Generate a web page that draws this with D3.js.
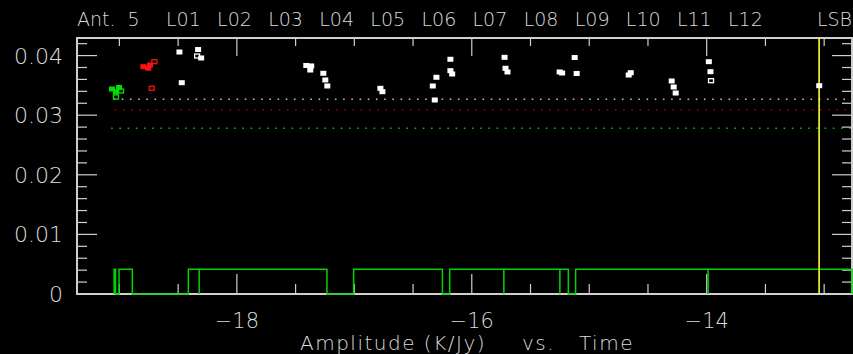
<!DOCTYPE html>
<html>
<head>
<meta charset="utf-8">
<script src="https://cdn.jsdelivr.net/npm/d3@7"></script>
<style>
  html, body { margin: 0; padding: 0; background: #000; }
  svg { display: block; }
  text { font-family: "DejaVu Sans", sans-serif; fill: #dcdcdc; font-weight: 200; }
</style>
</head>
<body>
<svg id="chart" width="853" height="354"></svg>
<script>
// ---- data -------------------------------------------------------------
const antennaLabel = "Ant.  5";
const loLabels = ["L01", "L02", "L03", "L04", "L05", "L06", "L07", "L08", "L09", "L10", "L11", "L12"];
const sidebandLabel = "LSB";

const timeDomain = [-19.361, -12.763];
const ampDomain = [0, 0.04295];

const xTickValues = d3.range(-19, -12.9, 0.5);
const xMajorTicks = [-18, -16, -14];
const xTickLabels = ["\u221218", "\u221216", "\u221214"];

const yTickValues = d3.range(0, 0.0421, 0.002);
const yMajorTicks = [0, 0.01, 0.02, 0.03, 0.04];
const yTickLabels = ["0", "0.01", "0.02", "0.03", "0.04"];

// [time, amplitude, filled]
const greenPoints = [
  [-19.063, 0.03440, 1], [-19.003, 0.03465, 1], [-19.029, 0.03389, 1],
  [-18.986, 0.03406, 0], [-19.029, 0.03305, 0]
];
const redPoints = [
  [-18.796, 0.03814, 1], [-18.754, 0.03787, 1], [-18.739, 0.03842, 1],
  [-18.702, 0.03898, 0], [-18.725, 0.03451, 0]
];
const whitePoints = [
  [-18.489, 0.04060, 1], [-18.469, 0.03545, 1], [-18.330, 0.04102, 1],
  [-18.338, 0.03993, 0], [-18.304, 0.03960, 1],
  [-17.409, 0.03834, 1], [-17.367, 0.03826, 1], [-17.375, 0.03758, 1],
  [-17.264, 0.03703, 1], [-17.247, 0.03591, 1], [-17.230, 0.03490, 1],
  [-16.778, 0.03451, 1], [-16.761, 0.03394, 1],
  [-16.301, 0.03636, 1], [-16.332, 0.03490, 1], [-16.315, 0.03255, 1],
  [-16.182, 0.03938, 1], [-16.182, 0.03747, 1], [-16.167, 0.03691, 1],
  [-15.721, 0.03971, 1], [-15.713, 0.03787, 1], [-15.696, 0.03725, 1],
  [-15.252, 0.03725, 1], [-15.231, 0.03708, 1],
  [-15.124, 0.03968, 1], [-15.107, 0.03700, 1],
  [-14.647, 0.03713, 1], [-14.664, 0.03674, 1],
  [-14.298, 0.03574, 1], [-14.281, 0.03473, 1], [-14.264, 0.03372, 1],
  [-13.982, 0.03898, 1], [-13.968, 0.03730, 1], [-13.963, 0.03579, 0],
  [-13.042, 0.03495, 1]
];

// horizontal reference levels: [start time, amplitude]
const whiteLevel = [-19.05, 0.03267];
const redLevel = [-19.04, 0.03092];
const greenLevel = [-19.07, 0.02780];

// sideband boundary marker
const markerTime = -13.043;

// scan intervals drawn as a step trace along the bottom
const scanLevel = 0.00414;
const scanIntervals = [
  [-19.045, -19.033], [-19.003, -18.890], [-18.413, -18.321], [-18.321, -17.233],
  [-17.006, -16.250], [-16.188, -15.727], [-15.727, -15.250], [-15.250, -15.178],
  [-15.116, -13.988], [-13.988, -12.763]
];

// ---- layout -----------------------------------------------------------
(function draw() {
  const svg = d3.select("#chart");
  const W = 853, H = 354;
  const pLeft = 77, pRight = 852, pTop = 38, pBottom = 294;

  svg.append("rect").attr("width", W).attr("height", H).attr("fill", "#000");

  const x = d3.scaleLinear().domain(timeDomain).range([pLeft, pRight]);
  const y = d3.scaleLinear().domain(ampDomain).range([pBottom, pTop]);

  const axisColor = "#cfcfcf";
  const isMajorY = v => yMajorTicks.some(m => Math.abs(m - v) < 1e-9);
  const isMajorX = v => xMajorTicks.some(m => Math.abs(m - v) < 1e-9);

  // reference levels (dotted)
  function level(lv, color) {
    svg.append("line")
      .attr("x1", x(lv[0])).attr("x2", pRight)
      .attr("y1", y(lv[1])).attr("y2", y(lv[1]))
      .attr("stroke", color).attr("stroke-width", 1.6)
      .attr("stroke-dasharray", "1.6 6.6");
  }
  level(whiteLevel, "#bdbdbd");
  level(redLevel, "#b00000");
  level(greenLevel, "#00c000");

  // frame
  svg.append("rect")
    .attr("x", pLeft).attr("y", pTop)
    .attr("width", pRight - pLeft).attr("height", pBottom - pTop)
    .attr("fill", "none").attr("stroke", axisColor).attr("stroke-width", 2);

  // x ticks (bottom and top, pointing inward)
  const xt = svg.append("g").attr("stroke", axisColor).attr("stroke-width", 1.2);
  xTickValues.forEach(v => {
    const len = isMajorX(v) ? 20 : 10;
    xt.append("line").attr("x1", x(v)).attr("x2", x(v)).attr("y1", pBottom).attr("y2", pBottom - len);
    xt.append("line").attr("x1", x(v)).attr("x2", x(v)).attr("y1", pTop).attr("y2", pTop + (isMajorX(v) ? 18 : 8));
  });

  // y ticks (left and right, pointing inward)
  const yt = svg.append("g").attr("stroke", axisColor).attr("stroke-width", 1.2);
  yTickValues.forEach(v => {
    const len = isMajorY(v) ? 20 : 10;
    yt.append("line").attr("x1", pLeft).attr("x2", pLeft + len).attr("y1", y(v)).attr("y2", y(v));
    yt.append("line").attr("x1", pRight).attr("x2", pRight - len).attr("y1", y(v)).attr("y2", y(v));
  });

  // tick labels
  yMajorTicks.forEach((v, i) => {
    svg.append("text")
      .attr("x", 63).attr("y", y(v))
      .attr("dy", "0.36em")
      .attr("text-anchor", "end")
      .attr("font-size", 22)
      .text(yTickLabels[i]);
  });
  xMajorTicks.forEach((v, i) => {
    svg.append("text")
      .attr("x", x(v)).attr("y", 328)
      .attr("text-anchor", "middle")
      .attr("font-size", 21)
      .text(xTickLabels[i]);
  });

  // axis title
  const title = svg.append("text").attr("y", 350).attr("font-size", 20).attr("letter-spacing", 1.5);
  title.append("tspan").attr("x", 300).text("Amplitude (K/Jy)");
  title.append("tspan").attr("x", 522).text("vs.");
  title.append("tspan").attr("x", 579).text("Time");

  // header row
  svg.append("text").attr("x", 77).attr("y", 26).attr("font-size", 19)
    .style("white-space", "pre").text(antennaLabel);
  const hx = d3.scaleLinear().domain([0, loLabels.length - 1]).range([166, 728]);
  loLabels.forEach((lab, i) => {
    svg.append("text").attr("x", hx(i)).attr("y", 26).attr("font-size", 19).text(lab);
  });
  svg.append("text").attr("x", 852).attr("y", 26).attr("font-size", 19)
    .attr("text-anchor", "end").text(sidebandLabel);

  // scan step trace
  const stepPts = [];
  scanIntervals.forEach(([a, b]) => {
    stepPts.push([a, 0], [a, scanLevel], [b, scanLevel], [b, 0]);
  });
  svg.append("path")
    .attr("d", d3.line().x(d => x(d[0])).y(d => y(d[1]))(stepPts))
    .attr("fill", "none").attr("stroke", "#00d400").attr("stroke-width", 1.5);

  // sideband marker line
  svg.append("line")
    .attr("x1", x(markerTime)).attr("x2", x(markerTime))
    .attr("y1", pTop).attr("y2", pBottom)
    .attr("stroke", "#ffff30").attr("stroke-width", 1.6);

  // data points
  function drawPoints(data, color) {
    const g = svg.append("g");
    data.forEach(([t, v, filled]) => {
      if (filled) {
        g.append("rect")
          .attr("x", x(t) - 3).attr("y", y(v) - 2.5)
          .attr("width", 6).attr("height", 5)
          .attr("fill", color);
      } else {
        g.append("rect")
          .attr("x", x(t) - 2.5).attr("y", y(v) - 2)
          .attr("width", 5).attr("height", 4)
          .attr("fill", "none").attr("stroke", color).attr("stroke-width", 1.3);
      }
    });
  }
  drawPoints(greenPoints, "#00e000");
  drawPoints(redPoints, "#ff1010");
  drawPoints(whitePoints, "#ffffff");
})();
</script>
</body>
</html>
